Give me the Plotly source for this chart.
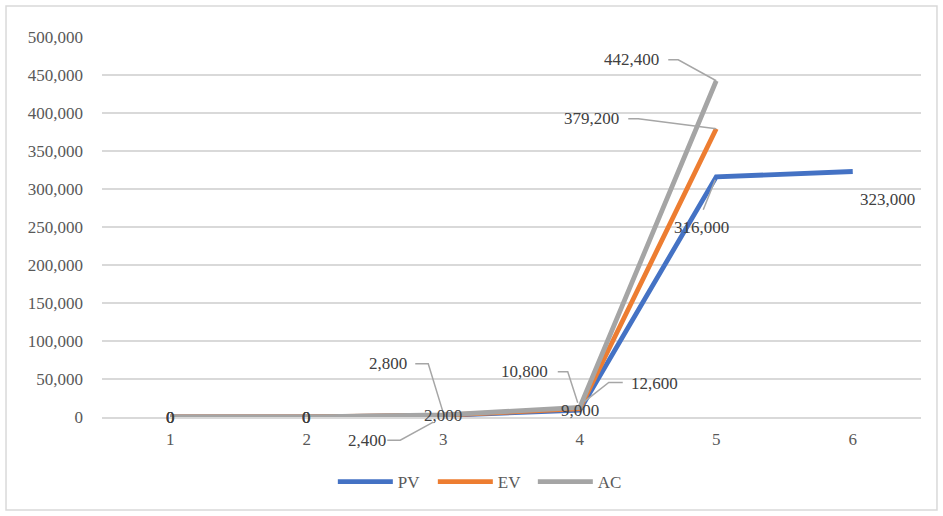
import plotly.graph_objects as go

# Reporting periods and earned-value series
periods = [1, 2, 3, 4, 5, 6]
pv = [0, 0, 2000, 9000, 316000, 323000]
ev = [0, 0, 2400, 10800, 379200]
ac = [0, 0, 2800, 12600, 442400]

Y_MAX = 500000
series_names = ["PV", "EV", "AC"]
series_colors = ["#4472C4", "#ED7D31", "#A5A5A5"]

FONT = "Liberation Serif"
TICK_COLOR = "#595959"
LABEL_COLOR = "#404040"
GRID_COLOR = "#D9D9D9"

fig = go.Figure()
for name, values, color in zip(series_names, [pv, ev, ac], series_colors):
    fig.add_trace(go.Scatter(
        x=periods[:len(values)], y=values, name=name, mode="lines",
        line=dict(color=color, width=4.8),
    ))

# Data label placement: (series values, index, x shift px, y shift px, leader path in px offsets)
label_specs = [
    (pv, 0, 0, 0, None), (ev, 0, 0, 0, None), (ac, 0, 0, 0, None),
    (pv, 1, 0, 0, None), (ev, 1, 0, 0, None), (ac, 1, 0, 0, None),
    (pv, 2, 0, 0, None),
    (ev, 2, -76, -25, "M-56,-25 L-43,-25 L-10,-7"),
    (ac, 2, -55, 51, "M-28,51 L-15,51 L0,2"),
    (pv, 3, 0, 0, None),
    (ev, 3, -55, 37, "M-22,37 L-12,37 L-2,6"),
    (ac, 3, 75, 24, "M43,25 L29,25 L5,6"),
    (pv, 4, -15, -51, "M-13,-33 L-1,-3"),
    (ev, 4, -125, 10, "M-88,10 L-78,10 L0,0"),
    (ac, 4, -85, 21, "M-48,21 L-38,21 L0,0"),
    (pv, 5, 35, -28, None),
]

annotations = []
shapes = []
for values, i, dx, dy, path in label_specs:
    annotations.append(dict(
        x=periods[i], y=values[i], xref="x", yref="y",
        text=f"{values[i]:,}", showarrow=False,
        xshift=dx, yshift=dy,
        font=dict(family=FONT, size=17, color=LABEL_COLOR),
    ))
    if path:
        # leader lines are anchored in paper height so they are not clipped below the axis
        shapes.append(dict(
            type="path", xref="x", yref="paper",
            xsizemode="pixel", ysizemode="pixel",
            xanchor=periods[i], yanchor=values[i] / Y_MAX,
            path=path, line=dict(color="#A6A6A6", width=1.5),
        ))

# Outer chart border
shapes.append(dict(
    type="rect", xref="paper", yref="paper",
    x0=-0.1172, x1=1.0195, y0=-0.2447, y1=1.0816,
    line=dict(color=GRID_COLOR, width=1.5), layer="below",
))

fig.update_layout(
    width=943, height=516,
    margin=dict(l=102, r=22, t=37, b=99),
    paper_bgcolor="white", plot_bgcolor="white",
    font=dict(family=FONT, size=17, color=TICK_COLOR),
    showlegend=True,
    legend=dict(
        orientation="h", x=0.465, xanchor="center", y=-0.171, yanchor="middle",
        font=dict(family=FONT, size=17, color=TICK_COLOR),
        itemwidth=55, tracegroupgap=0,
        entrywidth=30, entrywidthmode="pixels",
    ),
    annotations=annotations,
    shapes=shapes,
)
fig.update_xaxes(
    range=[0.5, 6.5], tickmode="array", tickvals=periods,
    ticktext=[str(p) for p in periods],
    showgrid=False, zeroline=False,
    showline=True, linecolor=GRID_COLOR, linewidth=1.5,
    ticks="", ticklabelstandoff=6,
    tickfont=dict(family=FONT, size=17, color=TICK_COLOR),
)
fig.update_yaxes(
    range=[0, Y_MAX], dtick=50000, tickformat=",",
    showgrid=True, gridcolor=GRID_COLOR, gridwidth=1.5,
    zeroline=False, showline=False, ticks="", ticklabelstandoff=18,
    tickfont=dict(family=FONT, size=17, color=TICK_COLOR),
)

fig.write_html("out.html")
